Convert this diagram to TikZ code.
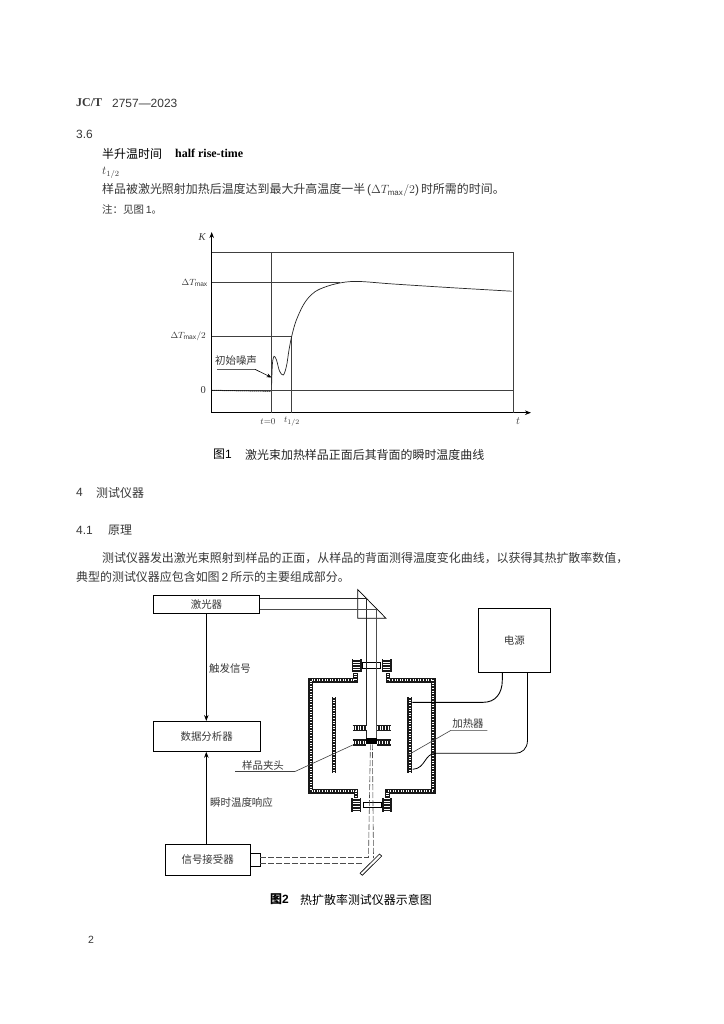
\documentclass[tikz,border=0pt]{standalone}
\usepackage{fontspec}
\setmainfont{Liberation Sans}
\newfontfamily\cjk{Noto Sans CJK SC}
\newfontfamily\tnr{Liberation Serif}
\usetikzlibrary{arrows.meta}
\newcommand{\fsA}{\fontsize{12}{14}\selectfont}
\newcommand{\fsB}{\fontsize{10.5}{12}\selectfont}
\newcommand{\fsC}{\fontsize{9.5}{11}\selectfont}
\tikzset{
  txt/.style={inner sep=0pt,anchor=west,text=black!78,font=\fsA},
  lab/.style={inner sep=0pt,text=black!78,font=\fsB},
  capt/.style={inner sep=0pt,anchor=west,text=black,font=\fsA},
  box/.style={draw,line width=0.8pt,inner sep=0pt},
  grayline/.style={line width=0.6pt,draw=black!75},
  beam/.style={line width=0.8pt},
  dbeam/.style={line width=0.6pt,draw=black!70,dash pattern=on 6pt off 2pt},
  arr/.style={line width=0.8pt,-{Stealth[length=6pt,width=4.5pt]}},
  wall/.style={line width=5pt,draw=black!90,postaction={draw=white,line width=2.2pt,dash pattern=on 1pt off 1.6pt}},
  blockw/.style={line width=10pt,draw=black!90,postaction={draw=white,line width=6.5pt,dash pattern=on 1pt off 1.6pt}},
  clampw/.style={line width=7pt,draw=black!90,postaction={draw=white,line width=3.6pt,dash pattern=on 1pt off 1.6pt}},
}
\begin{document}
\begin{tikzpicture}[x=1bp,y=-1bp]
\useasboundingbox[fill=white] (0,0) rectangle (724,1024);
% ---- text
\node[txt] (hdr) at (76,103) {\tnr\bfseries JC/T}; 
\node[txt] (hdr2) at (112,103) {2757---2023};
\node[txt] (s36) at (76,134) {3.6};
\node[capt] (t1) at (102,153.5) {\cjk 半升温时间};
\node[capt,font=\fsA\tnr\bfseries] (t1b) at (175,153.5) {half rise-time};
\node[txt] (t2) at (102,173) {$t_{1/2}$};
\node[txt] (t3) at (102,190) {\cjk 样品被激光照射加热后温度达到最大升高温度一半\,{\rmfamily(}$\Delta T_{\max}/2${\rmfamily)}\,时所需的时间。};
\node[txt,font=\fsB] (t4) at (102,209) {\cjk 注：见图\,{\rmfamily 1}。};
\node[txt] (s4) at (76,492.7) {4};
\node[txt] (s4t) at (96,492.7) {\cjk 测试仪器};
\node[txt] (s41) at (76,530) {4.1};
\node[txt] (s41t) at (108,530) {\cjk 原理};
\node[txt] (p1) at (102,557.7) {\cjk 测试仪器发出激光束照射到样品的正面，从样品的背面测得温度变化曲线，以获得其热扩散率数值，};
\node[txt] (p2) at (76,576.7) {\cjk 典型的测试仪器应包含如图\,{\rmfamily 2}\,所示的主要组成部分。};
\node[capt] (c1a) at (213,454.5) {\cjk 图{\rmfamily 1}};
\node[capt,text=black!85] (c1b) at (245,454.5) {\cjk 激光束加热样品正面后其背面的瞬时温度曲线};
\node[capt] (c2a) at (270,899.5) {\cjk\bfseries 图{\rmfamily 2}};
\node[capt] (c2b) at (300,899.5) {\cjk 热扩散率测试仪器示意图};
\node[lab] (pg) at (91,940) {2};
% ---- Fig 1
\coordinate (O) at (211.7,412.7);
\coordinate (Ytop) at (211.7,232);
\coordinate (Xend) at (531,412.7);
\coordinate (FTL) at (211.7,252.7);
\coordinate (FTR) at (513,252.7);
\coordinate (FBR) at (513,412.7);
\coordinate (Tz) at (271.3,412.7);
\coordinate (Tzt) at (271.3,252.7);
\coordinate (Th) at (291.7,412.7);
\coordinate (Thp) at (291.7,336.3);
\coordinate (Ma) at (211.7,282.3);
\coordinate (Mb) at (340,282.3);
\coordinate (Ha) at (211.7,336.3);
\coordinate (Za) at (211.7,390.3);
\coordinate (Zb) at (513,390.3);
\draw[arr,line width=1pt] (O) -- (Ytop);
\draw[arr,line width=1pt] (O) -- (Xend);
\draw[grayline] (FTL) -- (FTR) -- (FBR);
\draw[grayline,line width=0.8pt] (Tzt) -- (Tz);
\draw[grayline] (Thp) -- (Th);
\draw[grayline] (Ma) -- (Mb);
\draw[grayline] (Ha) -- (Thp);
\draw[grayline] (Za) -- (Zb);
\draw[line width=0.7pt,draw=black!85,smooth,tension=0.55] plot coordinates {(271.6,385) (272.4,364) (274,356.3) (276.5,360) (279.5,371) (283.3,375) (286.5,366) (289,350) (291.7,336.3) (296,321) (303.3,305) (311,295) (320,289) (336.7,283.6) (356.7,281.4) (393.3,284) (450,287.6) (511.7,291.2)};
\draw[line width=1pt,densely dotted] (Za) -- (271.3,391.4);
\node[lab] (ln) at (236,360.7) {\cjk 初始噪声};
\coordinate (La) at (217,369.3);
\coordinate (Lb) at (255,369.3);
\coordinate (Lc) at (271.5,377.5);
\draw[line width=0.6pt,-{Stealth[length=5pt,width=4pt]}] (La) -- (Lb) -- (Lc);
\node[lab,font=\fsB\tnr\itshape] (lK) at (202,236.7) {K};
\node[lab,anchor=east,font=\fsC] (lM) at (208,282.5) {$\Delta T_{\max}$};
\node[lab,anchor=east,font=\fsC] (lH) at (206,336.5) {$\Delta T_{\max}/2$};
\node[lab,anchor=east] (lZ) at (206,390.5) {\tnr 0};
\node[lab,font=\fsC] (l0) at (268,422) {$t{=}0$};
\node[lab,font=\fsC] (lh) at (292,422) {$t_{1/2}$};
\node[lab] (lt) at (518,421.5) {$t$};
% ---- Fig 2 boxes
\node[box,minimum width=106bp,minimum height=18.3bp,font=\fsB,text=black!78] (laser) at (206.5,604.2) {\cjk 激光器};
\node[box,minimum width=106.7bp,minimum height=30.7bp,font=\fsB,text=black!78] (dap) at (206.7,736.4) {\cjk 数据分析器};
\node[box,minimum width=84.7bp,minimum height=30.3bp,font=\fsB,text=black!78] (recv) at (207.7,859.9) {\cjk 信号接受器};
\node[box,minimum width=10bp,minimum height=13.7bp] (lens) at (255,859.9) {};
\node[box,minimum width=72bp,minimum height=64bp] (psu) at (514.3,640.3) {};
\node[lab] (psul) at (psu.center) {\cjk 电源};
\coordinate (A1) at (206.3,613.4);
\coordinate (A2) at (206.3,721);
\coordinate (B1) at (206.3,844.7);
\coordinate (B2) at (206.3,751.8);
\draw[arr] (A1) -- (A2);
\draw[arr] (B1) -- (B2);
\node[lab] (ltr) at (230,669) {\cjk 触发信号};
\node[lab] (lrs) at (241.5,803) {\cjk 瞬时温度响应};
% ---- prism and beam
\coordinate (P1) at (357.7,589.5);
\coordinate (P2) at (386,618.3);
\coordinate (P3) at (357.7,618.3);
\draw[line width=0.7pt] (P1) -- (P2) -- (P3) -- cycle;
\coordinate (Ba) at (366.3,598.3);
\coordinate (Bb) at (376.7,609);
\coordinate (Bc) at (366.3,738.5);
\coordinate (Bd) at (376.7,738.5);
% ---- chamber walls
\draw[wall] (355.5,671) -- (355.5,680) -- (310.7,680) -- (310.7,791) -- (356,791) -- (356,799);
\draw[wall] (388,671) -- (388,680) -- (433.2,680) -- (433.2,791) -- (387.5,791) -- (387.5,799);
\draw[blockw] (356.7,659) -- (356.7,672.3);
\draw[blockw] (386.7,659) -- (386.7,672.3);
\draw[blockw] (356.4,798.3) -- (356.4,811.7);
\draw[blockw] (387,798.3) -- (387,811.7);
\node[draw,line width=0.6pt,fill=white,minimum width=18bp,minimum height=5.3bp,inner sep=0pt] (wtop) at (371.7,665.3) {};
\node[draw,line width=0.6pt,fill=white,minimum width=18.4bp,minimum height=5.7bp,inner sep=0pt] (wbot) at (372.5,804.8) {};
\draw[beam,draw=black!85] (laser.east |- Ba) -- (Ba) -- (Bc);
\draw[beam,draw=black!70] (laser.east |- Bb) -- (Bb) -- (Bd);
% heaters
\draw[wall] (334,697.3) -- (334,773.3);
\draw[wall] (409.8,697.3) -- (409.8,773.3);
% clamp
\draw[clampw] (352.7,728) -- (366,728);
\draw[clampw] (377.3,728) -- (390.7,728);
\draw[clampw] (352.5,742.5) -- (366.3,742.5);
\draw[clampw] (376.9,742.5) -- (390.7,742.5);
\node[fill=black,minimum width=10.7bp,minimum height=5.7bp,inner sep=0pt] (sample) at (371.4,741.2) {};
% lower beams and mirror
\coordinate (M1) at (360,873.3);
\coordinate (M2) at (379.5,854);
\coordinate (M3) at (362.3,875.3);
\coordinate (M4) at (381.7,856);
\draw[line width=0.6pt] (M1) -- (M2) -- (M4) -- (M3) -- cycle;
\coordinate (Da) at (368.5,857.3);
\coordinate (Db) at (373.5,858);
\coordinate (Dc) at (363.3,863.3);
\draw[dbeam] (sample.south) ++(-1,0) -- (Da);
\draw[dbeam] (sample.south) ++(1,0) -- (Db);
\draw[dbeam] (lens.east |- Da) -- (Da);
\draw[dbeam] (lens.east |- Dc) -- (Dc);
% cables
\coordinate (C1) at (502.3,672.3);
\coordinate (C2) at (412.3,702.3);
\coordinate (C3) at (527.5,672.3);
\coordinate (C4) at (412.7,769.3);
\draw[line width=0.9pt] (C1) -- (502.3,680) .. controls (502.3,694) and (495,702.3) .. (483.3,702.3) -- (C2);
\draw[line width=0.8pt] (C3) -- (527.5,740) .. controls (527.5,749) and (522,753.3) .. (515,753.3) -- (436,753.3) .. controls (424,753.3) and (426,768.5) .. (C4);
% leaders
\node[lab] (lhe) at (468,723.3) {\cjk 加热器};
\coordinate (H1) at (487.3,730.3);
\coordinate (H2) at (451,730.3);
\coordinate (H3) at (408,755);
\draw[grayline] (H1) -- (H2) -- (H3);
\node[lab] (lcl) at (263,765) {\cjk 样品夹头};
\coordinate (S1) at (235,771.5);
\coordinate (S2) at (295,771.5);
\coordinate (S3) at (352.7,745);
\draw[grayline] (S1) -- (S2) -- (S3);
\end{tikzpicture}
\end{document}
